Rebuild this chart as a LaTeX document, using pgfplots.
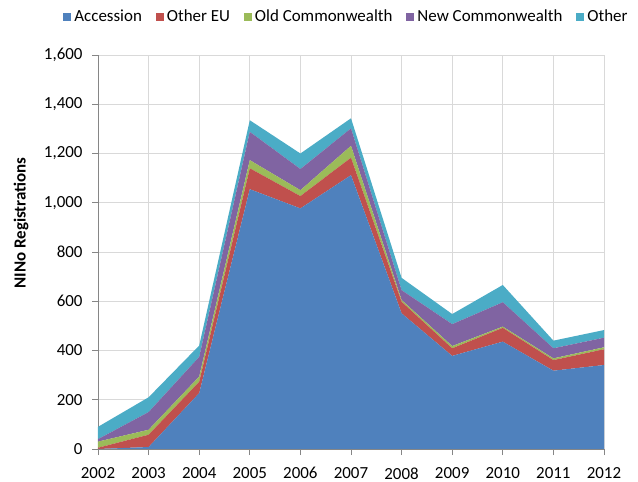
\documentclass[border=0pt]{standalone}
\usepackage{fontspec}
\setmainfont{Carlito}
\usepackage{pgfplots}
\pgfplotsset{compat=1.18}

\definecolor{cAcc}{HTML}{4F81BD}
\definecolor{cEU}{HTML}{C0504D}
\definecolor{cOld}{HTML}{9BBB59}
\definecolor{cNew}{HTML}{8064A2}
\definecolor{cOth}{HTML}{4BACC6}
\definecolor{gridgray}{HTML}{D9D9D9}
\definecolor{axgray}{HTML}{868686}

\begin{document}
\begin{tikzpicture}
\path[use as bounding box] (-98bp,-33bp) rectangle (540bp,449bp);
\begin{axis}[
    at={(0,0)}, anchor=south west,
    scale only axis,
    width=506bp, height=394bp,
    xmin=2002, xmax=2012,
    ymin=0, ymax=1600,
    xtick={2002,...,2012},
    ytick={0,200,...,1600},
    stack plots=y,
    area style,
    axis on top=false,
    grid=major,
    grid style={gridgray, line width=0.8pt},
    axis line style={axgray, line width=0.8pt},
    axis x line*=bottom,
    axis y line*=left,
    tick align=outside,
    major tick length=6bp,
    tick style={axgray, line width=0.8pt},
    xticklabel style={font=\fontsize{17}{17}\selectfont, yshift=-9bp},
    yticklabel style={font=\fontsize{17}{17}\selectfont, xshift=-6bp},
    x tick label style={/pgf/number format/1000 sep={}},
    y tick label style={/pgf/number format/1000 sep={,}},
    /pgf/number format/assume math mode=true,
    ylabel={\textbf{NINo Registrations}},
    ylabel style={font=\fontsize{17}{17}\selectfont, at={(-77bp,226bp)}, anchor=center},
    legend columns=5,
    legend style={at={(0.492,1.097)}, anchor=center, draw=none, fill=none,
        font=\fontsize{17}{17}\selectfont,
        nodes={inner xsep=3bp},
        /tikz/every even column/.append style={column sep=11bp}},
    legend image code/.code={\fill[#1] (0bp,-4bp) rectangle (8bp,4bp);},
]
\addplot[fill=cAcc, draw=none] coordinates {
 (2002,0) (2003,8) (2004,227) (2005,1055) (2006,977) (2007,1112)
 (2008,551) (2009,378) (2010,436) (2011,318) (2012,341)} \closedcycle;
\addlegendentry{Accession}
\addplot[fill=cEU, draw=none] coordinates {
 (2002,5) (2003,50) (2004,46) (2005,85) (2006,50) (2007,71)
 (2008,47) (2009,31) (2010,56) (2011,43) (2012,64)} \closedcycle;
\addlegendentry{Other EU}
\addplot[fill=cOld, draw=none] coordinates {
 (2002,25) (2003,20) (2004,21) (2005,33) (2006,24) (2007,48)
 (2008,7) (2009,9) (2010,5) (2011,7) (2012,8)} \closedcycle;
\addlegendentry{Old Commonwealth}
\addplot[fill=cNew, draw=none] coordinates {
 (2002,10) (2003,72) (2004,80) (2005,115) (2006,86) (2007,71)
 (2008,40) (2009,89) (2010,99) (2011,41) (2012,39)} \closedcycle;
\addlegendentry{New Commonwealth}
\addplot[fill=cOth, draw=none] coordinates {
 (2002,50) (2003,60) (2004,46) (2005,47) (2006,63) (2007,41)
 (2008,50) (2009,41) (2010,70) (2011,31) (2012,31)} \closedcycle;
\addlegendentry{Other}
\end{axis}
\end{tikzpicture}
\end{document}
